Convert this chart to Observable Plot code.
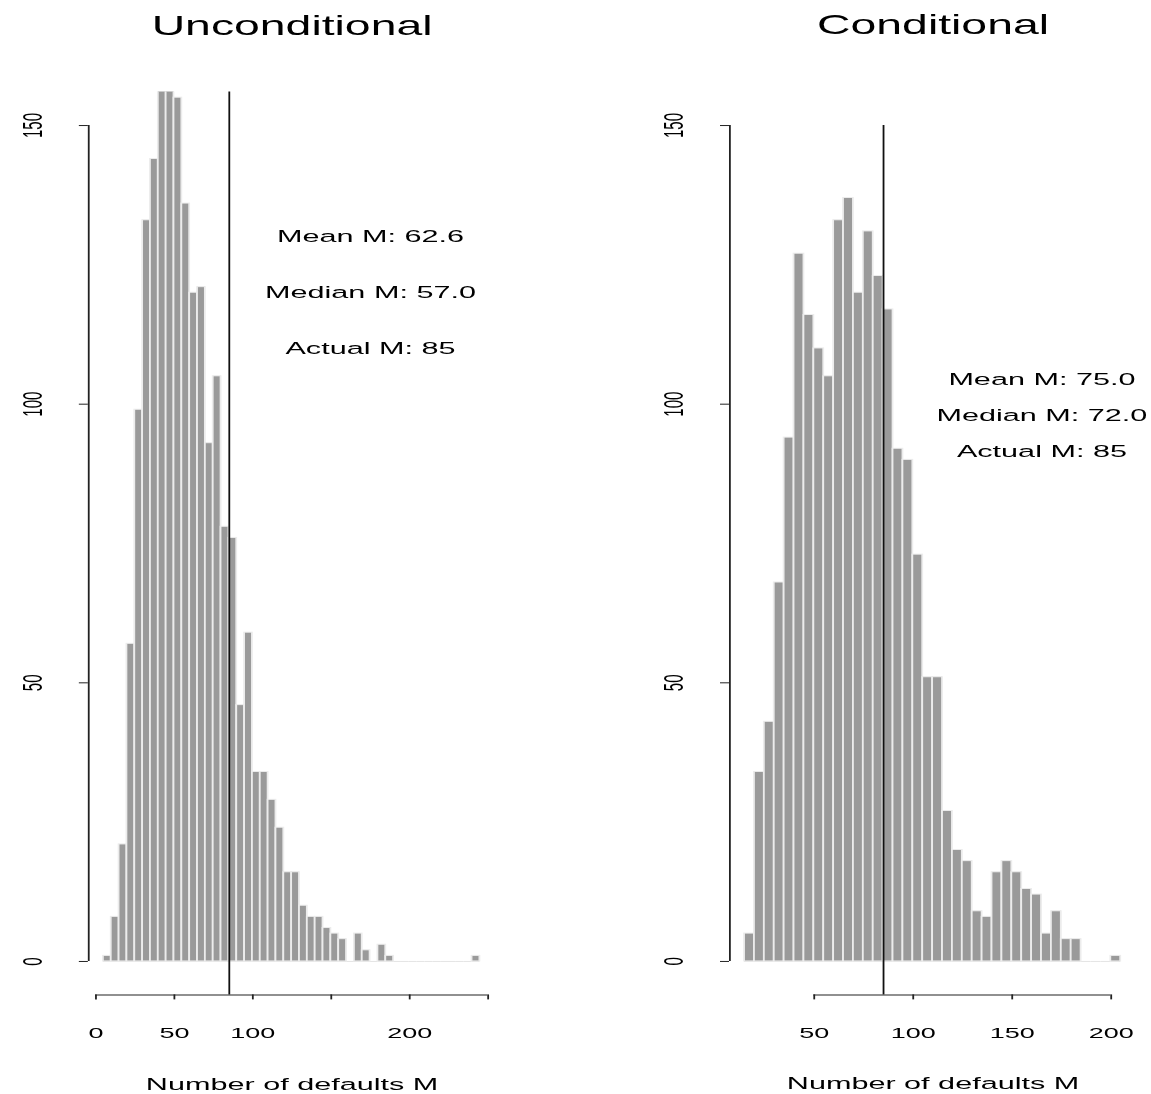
<!DOCTYPE html>
<html><head><meta charset="utf-8">
<script src="https://cdn.jsdelivr.net/npm/d3@7"></script>
<script src="https://cdn.jsdelivr.net/npm/@observablehq/plot@0.6"></script>
<style>
html,body{margin:0;padding:0;background:#fff;}
#wrap{position:relative;width:1151px;height:1094px;overflow:hidden;background:#fff;}
#inner{position:absolute;left:0;top:0;width:639.44px;height:1094px;transform:scaleX(1.8);transform-origin:0 0;}
#inner svg{position:absolute;top:0;overflow:visible;}
</style></head><body>
<div id="wrap"><div id="inner"></div></div>
<script>
// ---- data ----
const binWidth = 5;
const actualM = 85;
const xLabel = "Number of defaults M";

// Unconditional
const uncTitle = "Unconditional";
const uncBinStart = [5,10,15,20,25,30,35,40,45,50,55,60,65,70,75,80,85,90,95,100,105,110,115,120,125,130,135,140,145,150,155,160,165,170,175,180,185,190,195,200,205,210,215,220,225,230,235,240];
const uncCounts   = [1,8,21,57,99,133,144,171,171,155,136,120,121,93,105,78,76,46,59,34,34,29,24,16,16,10,8,8,6,5,4,0,5,2,0,3,1,0,0,0,0,0,0,0,0,0,0,1];
const uncXTicks = [0,50,100,150,200,250];
const uncXTickLabels = ["0","50","100","","200",""];
const uncNotes = ["Mean M: 62.6","Median M: 57.0","Actual M: 85"];
const uncNoteX = 175;
const uncNoteY = [130,120,110];

// Conditional
const conTitle = "Conditional";
const conBinStart = [15,20,25,30,35,40,45,50,55,60,65,70,75,80,85,90,95,100,105,110,115,120,125,130,135,140,145,150,155,160,165,170,175,180,185,190,195,200];
const conCounts   = [5,34,43,68,94,127,116,110,105,133,137,120,131,123,117,92,90,73,51,51,27,20,18,9,8,16,18,16,13,12,5,9,4,4,0,0,0,1];
const conXTicks = [50,100,150,200];
const conXTickLabels = ["50","100","150","200"];
const conNotes = ["Mean M: 75.0","Median M: 72.0","Actual M: 85"];
const conNoteX = 165;
const conNoteY = [104.5,98,91.5];

const yTicks = [0,50,100,150];
const yTickLabels = ["0","50","100","150"];

// ---- layout (unstretched units; whole page is stretched horizontally) ----
const H = 1094;
const FONT = "'Liberation Sans', Arial, Helvetica, sans-serif";

function panel(o) {
  const bins = o.binStart.map((s, i) => ({x1: s, x2: s + binWidth, count: o.counts[i]}));
  const lo = o.binStart[0], hi = o.binStart[o.binStart.length - 1] + binWidth;
  const pad = (hi - lo) * 0.04;
  const xDomain = [lo - pad, hi + pad];
  const yDomain = [-6, 156];
  return Plot.plot({
    width: o.width, height: H,
    marginLeft: o.marginLeft, marginRight: o.marginRight,
    marginTop: 91.6, marginBottom: 99.6,
    style: {fontFamily: FONT, color: "#000", background: "transparent", overflow: "visible"},
    x: {domain: xDomain},
    y: {domain: yDomain},
    marks: [
      Plot.ruleY(bins, {x1: "x1", x2: "x2", y: 0, stroke: "#e4e4e4", strokeWidth: 1}),
      Plot.rectY(bins.filter(d => d.count > 0), {x1: "x1", x2: "x2", y: "count", fill: "#9a9a9a", stroke: "#ececec", strokeWidth: 1, clip: true}),
      Plot.ruleX([actualM], {y1: yDomain[0], y2: o.ruleTop, stroke: "#111", strokeWidth: 1}),
      Plot.ruleX([xDomain[0]], {y1: yTicks[0], y2: yTicks[yTicks.length - 1], stroke: "#222", strokeWidth: 1}),
      Plot.ruleY([yDomain[0]], {x1: o.xTicks[0], x2: o.xTicks[o.xTicks.length - 1], stroke: "#222", strokeWidth: 1}),
      Plot.axisX({ticks: o.xTicks, tickSize: 5, tickPadding: 27, label: null, fontSize: 15, stroke: "#222",
        tickFormat: d => o.xTickLabels[o.xTicks.indexOf(d)]}),
      Plot.axisY({ticks: yTicks, tickSize: 5, tickPadding: 21, tickRotate: -90, label: null, fontSize: 15, stroke: "#222",
        tickFormat: d => yTickLabels[yTicks.indexOf(d)]}),
      Plot.text(o.notes, {x: o.noteX, y: (d, i) => o.noteY[i], text: d => d, fontSize: 17, fill: "#000"}),
      Plot.text([o.title], {frameAnchor: "top", lineAnchor: "bottom", dy: 34 - 91.6, fontSize: 28, fill: "#000", text: d => d}),
      Plot.text([xLabel], {frameAnchor: "bottom", lineAnchor: "bottom", dy: 1089 - (H - 99.6), fontSize: 17, fill: "#000", text: d => d})
    ]
  });
}

const inner = document.getElementById("inner");
const left = panel({
  title: uncTitle, binStart: uncBinStart, counts: uncCounts, xTicks: uncXTicks, xTickLabels: uncXTickLabels,
  notes: uncNotes, noteX: uncNoteX, noteY: uncNoteY, ruleTop: 156,
  width: 320, marginLeft: 48.8, marginRight: 45.3
});
left.style.left = "0px";
inner.appendChild(left);

const right = panel({
  title: conTitle, binStart: conBinStart, counts: conCounts, xTicks: conXTicks, xTickLabels: conXTickLabels,
  notes: conNotes, noteX: conNoteX, noteY: conNoteY, ruleTop: 150,
  width: 319.44, marginLeft: 85, marginRight: 8.74
});
right.style.left = "320px";
inner.appendChild(right);

// titles: slightly condensed horizontally, as in the reference
for (const svg of [left, right]) {
  svg.querySelectorAll("text").forEach(t => {
    if (t.textContent === uncTitle || t.textContent === conTitle) {
      const len = t.getComputedTextLength();
      t.setAttribute("textLength", (len * 0.92).toFixed(2));
      t.setAttribute("lengthAdjust", "spacingAndGlyphs");
    }
  });
}
</script>
</body></html>
